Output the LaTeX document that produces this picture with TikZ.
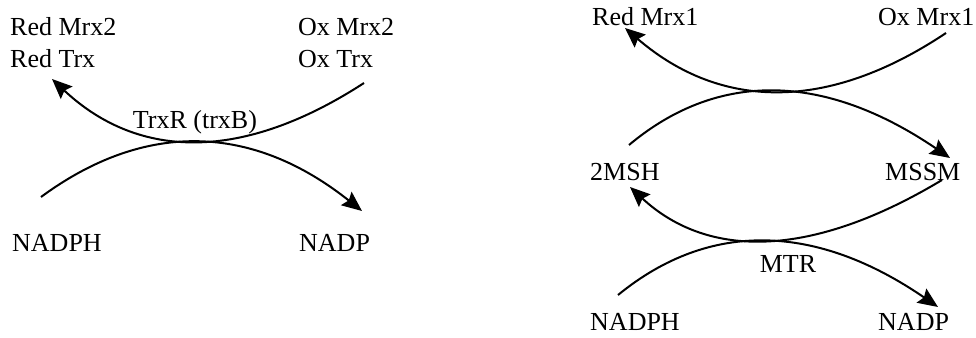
\documentclass[tikz,border=0pt]{standalone}
\usepackage{fontspec}
\setmainfont{Liberation Serif}
\usetikzlibrary{arrows.meta}
\begin{document}
\begin{tikzpicture}[x=1pt,y=-1pt,
  lbl/.style={anchor=base west,inner sep=0pt,font=\fontsize{26}{30}\selectfont},
  flow/.style={line width=2pt},
  flowarrow/.style={flow,-{Stealth[length=20pt,width=17pt,inset=3pt]}}]
\useasboundingbox (0,0) rectangle (976,337);

% ---- TrxR reaction ----
\node[lbl] (redmrx2) at (10,36) {Red Mrx2};
\node[lbl] (redtrx)  at (10,67) {Red Trx};
\node[lbl] (oxmrx2)  at (298,36) {Ox Mrx2};
\node[lbl] (oxtrx)   at (298,67) {Ox Trx};
\node[lbl,anchor=base] (trxr) at (195,128) {TrxR (trxB)};
\node[lbl] (nadphA)  at (12,251) {NADPH};
\node[lbl] (nadpA)   at (299,251) {NADP};

\coordinate (a1) at (364,83);
\coordinate (a2) at (52,79);
\coordinate (b1) at (41,197);
\coordinate (b2) at (362,211);
\draw[flowarrow] (a1) .. controls (242.7,161.7) and (138.7,160.3) .. (a2);
\draw[flowarrow] (b1) .. controls (146,119.7) and (253,124.3) .. (b2);

% ---- Mrx1 / mycothiol cycle ----
\node[lbl] (redmrx1) at (592,26) {Red Mrx1};
\node[lbl] (oxmrx1)  at (878,26) {Ox Mrx1};
\node[lbl] (msh)     at (590,180) {2MSH};
\node[lbl] (mssm)    at (885,180) {MSSM};
\node[lbl,anchor=base] (mtr) at (788,272) {MTR};
\node[lbl] (nadphB)  at (590,330) {NADPH};
\node[lbl] (nadpB)   at (878,330) {NADP};

\coordinate (c1) at (946,33);
\coordinate (c2) at (625,28);
\coordinate (d1) at (629,145);
\coordinate (d2) at (950,158);
\draw[flowarrow] (c1) .. controls (827.7,112) and (720.7,110.3) .. (c2);
\draw[flowarrow] (d1) .. controls (719.3,69.3) and (826.3,73.7) .. (d2);

\coordinate (e1) at (942,180);
\coordinate (e2) at (630,187);
\coordinate (f1) at (618,295);
\coordinate (f2) at (938,307);
\draw[flowarrow] (e1) .. controls (812.7,257.7) and (708.7,260) .. (e2);
\draw[flowarrow] (f1) .. controls (710,219.7) and (816.7,223.7) .. (f2);
\end{tikzpicture}
\end{document}
